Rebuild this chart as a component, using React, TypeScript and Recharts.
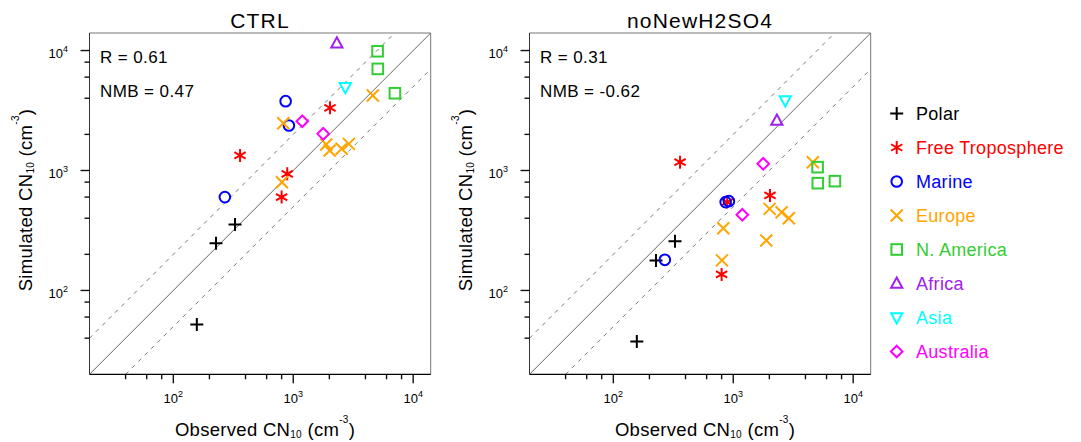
import React from 'react';
import { ScatterChart, Scatter, XAxis, YAxis, ReferenceLine } from 'recharts';

const FONT = '"Liberation Sans", Arial, Helvetica, sans-serif';

// ---------- categories / styles ----------
const categories = ['Polar', 'Free Troposphere', 'Marine', 'Europe', 'N. America', 'Africa', 'Asia', 'Australia'];
const markerKinds = ['plus', 'star', 'circle', 'cross', 'square', 'triUp', 'triDown', 'diamond'];
const colors = ['#000000', '#ff0000', '#0000ff', '#ffa500', '#32cd32', '#a020f0', '#00ffff', '#ff00ff'];

// ---------- observed CN10 (same sites in both panels) ----------
const obsPolar = [157, 227, 327];
const obsFreeTrop = [360, 800, 891, 2025];
const obsMarine = [269, 864, 920];
const obsEurope = [805, 826, 1885, 2010, 2530, 2910, 4610];
const obsNAmerica = [5050, 5070, 7040];
const obsAfrica = [2310];
const obsAsia = [2715];
const obsAustralia = [1190, 1778];

// ---------- simulated CN10, CTRL ----------
const ctrlPolar = [52, 247, 355];
const ctrlFreeTrop = [1334, 600, 938, 3327];
const ctrlMarine = [600, 3783, 2371];
const ctrlEurope = [799, 2479, 1647, 1468, 1516, 1668, 4217];
const ctrlNAmerica = [9860, 7031, 4406];
const ctrlAfrica = [11500];
const ctrlAsia = [4944];
const ctrlAustralia = [2574, 2021];

// ---------- simulated CN10, noNewH2SO4 ----------
const noNewPolar = [37.6, 178, 257];
const noNewFreeTrop = [1173, 136, 545, 619];
const noNewMarine = [180, 545, 555];
const noNewEurope = [178, 330, 261, 479, 449, 400, 1173];
const noNewNAmerica = [1066, 784, 815];
const noNewAfrica = [2610];
const noNewAsia = [3831];
const noNewAustralia = [427, 1137];

// ---------- axis ----------
const axisDomain = [20, 14000];
const tickValues = [40, 60, 80, 100, 200, 400, 600, 800, 1000, 2000, 4000, 6000, 8000, 10000];
const majorTicks = [100, 1000, 10000];

const observed = [obsPolar, obsFreeTrop, obsMarine, obsEurope, obsNAmerica, obsAfrica, obsAsia, obsAustralia];
const ctrlSim = [ctrlPolar, ctrlFreeTrop, ctrlMarine, ctrlEurope, ctrlNAmerica, ctrlAfrica, ctrlAsia, ctrlAustralia];
const noNewSim = [noNewPolar, noNewFreeTrop, noNewMarine, noNewEurope, noNewNAmerica, noNewAfrica, noNewAsia, noNewAustralia];

// plot-area geometry (matches the chart margins below)
const PLOT_L = 89.5;
const PLOT_W = 341.2;
const PLOT_T = 33;
const PLOT_H = 341.3;
const PANEL_OFFSET = 440;

function Marker({ kind, cx, cy, color }: { kind: string; cx: number; cy: number; color: string }) {
  const sw = 2;
  const common = { stroke: color, strokeWidth: sw, fill: 'none' };
  switch (kind) {
    case 'plus':
      return <path d={`M${cx - 6.5},${cy}H${cx + 6.5}M${cx},${cy - 6.5}V${cy + 6.5}`} {...common} />;
    case 'star': {
      const r = 6.5;
      let d = '';
      [90, 30, 150].forEach((a) => {
        const dx = r * Math.cos((a * Math.PI) / 180);
        const dy = r * Math.sin((a * Math.PI) / 180);
        d += `M${cx - dx},${cy - dy}L${cx + dx},${cy + dy}`;
      });
      return <path d={d} {...common} />;
    }
    case 'circle':
      return <circle cx={cx} cy={cy} r={5.3} {...common} />;
    case 'cross':
      return <path d={`M${cx - 6},${cy - 6}L${cx + 6},${cy + 6}M${cx - 6},${cy + 6}L${cx + 6},${cy - 6}`} {...common} />;
    case 'square':
      return <rect x={cx - 5.3} y={cy - 5.3} width={10.6} height={10.6} {...common} />;
    case 'triUp':
      return <path d={`M${cx},${cy - 6}L${cx + 5.6},${cy + 4.2}L${cx - 5.6},${cy + 4.2}Z`} {...common} />;
    case 'triDown':
      return <path d={`M${cx},${cy + 6}L${cx + 5.6},${cy - 4.2}L${cx - 5.6},${cy - 4.2}Z`} {...common} />;
    case 'diamond':
      return <path d={`M${cx},${cy - 5.8}L${cx + 5.8},${cy}L${cx},${cy + 5.8}L${cx - 5.8},${cy}Z`} {...common} />;
    default:
      return null;
  }
}

const expOf = (v: number) => Math.round(Math.log10(v));
const MINOR = 5;
const MAJOR = 9;

const XTick = (props: any) => {
  const { x, y, payload } = props;
  const v = payload.value;
  const major = majorTicks.includes(v);
  return (
    <g>
      {major && (
        <text x={x} y={y + 29} textAnchor="middle" fontSize={13} fontFamily={FONT} fill="#000">
          10
          <tspan dy={-6.5} fontSize={9}>
            {expOf(v)}
          </tspan>
        </text>
      )}
    </g>
  );
};

const YTick = (props: any) => {
  const { x, y, payload } = props;
  const v = payload.value;
  const major = majorTicks.includes(v);
  return (
    <g>
      {major && (
        <text x={x - 21.5} y={y + 7.7} textAnchor="end" fontSize={13} fontFamily={FONT} fill="#000">
          10
          <tspan dy={-6.5} fontSize={9}>
            {expOf(v)}
          </tspan>
        </text>
      )}
    </g>
  );
};

function Panel({ sims, left }: { sims: number[][]; left: number }) {
  const lo = axisDomain[0];
  const hi = axisDomain[1];
  return (
    <div style={{ position: 'absolute', left, top: 0, width: 450, height: 442, zIndex: 2 }}>
      <ScatterChart width={450} height={442} margin={{ top: PLOT_T, right: 450 - PLOT_L - PLOT_W, bottom: 0, left: 0 }}>
        <XAxis
          type="number"
          dataKey="x"
          scale="log"
          domain={axisDomain}
          allowDataOverflow
          ticks={tickValues}
          interval={0}
          tick={<XTick />}
          tickLine={false}
          tickSize={0}
          tickMargin={0}
          height={442 - PLOT_T - PLOT_H}
          axisLine={{ stroke: '#000', strokeWidth: 1.2 }}
        />
        <YAxis
          type="number"
          dataKey="y"
          scale="log"
          domain={axisDomain}
          allowDataOverflow
          ticks={tickValues}
          interval={0}
          tick={<YTick />}
          tickLine={false}
          tickSize={0}
          tickMargin={0}
          width={PLOT_L}
          axisLine={{ stroke: '#333', strokeWidth: 1 }}
        />
        <ReferenceLine y={hi} stroke="#777" strokeWidth={1} />
        <ReferenceLine x={hi} stroke="#777" strokeWidth={1} />
        <ReferenceLine segment={[{ x: lo, y: lo }, { x: hi, y: hi }]} stroke="#666" strokeWidth={1} />
        <ReferenceLine segment={[{ x: lo, y: lo * 2 }, { x: hi / 2, y: hi }]} stroke="#777" strokeWidth={1} strokeDasharray="4 5" />
        <ReferenceLine segment={[{ x: lo * 2, y: lo }, { x: hi, y: hi / 2 }]} stroke="#777" strokeWidth={1} strokeDasharray="4 5" />
        {categories.map((c, i) => (
          <Scatter
            key={c}
            name={c}
            data={observed[i].map((o, j) => ({ x: o, y: sims[i][j] }))}
            isAnimationActive={false}
            shape={(p: any) => <Marker kind={markerKinds[i]} cx={p.cx} cy={p.cy} color={colors[i]} />}
          />
        ))}
      </ScatterChart>
    </div>
  );
}

// tick marks of the log axes (axis decoration), drawn on the fixed plot geometry
function TickMarks({ off }: { off: number }) {
  const l0 = Math.log10(axisDomain[0]);
  const l1 = Math.log10(axisDomain[1]);
  const frac = (v: number) => (Math.log10(v) - l0) / (l1 - l0);
  const bottom = PLOT_T + PLOT_H;
  const leftX = PLOT_L + off;
  return (
    <g>
      {tickValues.map((v) => {
        const len = majorTicks.includes(v) ? MAJOR : MINOR;
        const px = leftX + frac(v) * PLOT_W;
        const py = bottom - frac(v) * PLOT_H;
        return (
          <g key={v}>
            <rect x={px - 0.7} y={bottom} width={1.4} height={len} fill="#111" />
            <rect x={leftX - len} y={py - 0.7} width={len} height={1.4} fill="#111" />
          </g>
        );
      })}
    </g>
  );
}

function AxisTitleX({ x, y }: { x: number; y: number }) {
  return (
    <text x={x} y={y} textAnchor="middle" fontSize={18.5} letterSpacing={0.3} fontFamily={FONT} fill="#000">
      Observed CN
      <tspan dy={2} fontSize={10}>10</tspan>
      <tspan dy={-2} fontSize={18.5}> (cm</tspan>
      <tspan dy={-13} fontSize={10}>-3</tspan>
      <tspan dy={13} fontSize={18.5}>)</tspan>
    </text>
  );
}

function AxisTitleY({ x, y }: { x: number; y: number }) {
  return (
    <text transform={`translate(${x},${y}) rotate(-90)`} x={0} y={0} textAnchor="middle" fontSize={18.5} letterSpacing={0.3} fontFamily={FONT} fill="#000">
      Simulated CN
      <tspan dy={2} fontSize={10}>10</tspan>
      <tspan dy={-2} fontSize={18.5}> (cm</tspan>
      <tspan dy={-13} fontSize={10}>-3</tspan>
      <tspan dy={13} fontSize={18.5}>)</tspan>
    </text>
  );
}

const panelTitles = ['CTRL', 'noNewH2SO4'];
const statR = ['0.61', '0.31'];
const statNMB = ['0.47', '-0.62'];

export default function App() {
  return (
    <div style={{ position: 'absolute', left: 0, top: 0, width: 1081, height: 442, background: '#fff' }}>
      <Panel sims={ctrlSim} left={0} />
      <Panel sims={noNewSim} left={PANEL_OFFSET} />
      <svg width={1081} height={442} style={{ position: 'absolute', left: 0, top: 0, zIndex: 5, pointerEvents: 'none' }}>
        {[0, 1].map((k) => {
          const off = k * PANEL_OFFSET;
          return (
            <g key={k}>
              <TickMarks off={off} />
              <text x={260 + off} y={27.5} textAnchor="middle" fontSize={21} letterSpacing={1.2} fontFamily={FONT} fill="#000">
                {panelTitles[k]}
              </text>
              <text x={100 + off} y={63.3} fontSize={17} letterSpacing={0.4} fontFamily={FONT} fill="#000">
                {`R = ${statR[k]}`}
              </text>
              <text x={100 + off} y={96.7} fontSize={17} letterSpacing={0.4} fontFamily={FONT} fill="#000">
                {`NMB = ${statNMB[k]}`}
              </text>
              <AxisTitleX x={265 + off} y={435.5} />
              <AxisTitleY x={31.5 + off} y={200} />
            </g>
          );
        })}
        {categories.map((c, i) => {
          const base = 120 + i * 34;
          return (
            <g key={c}>
              <Marker kind={markerKinds[i]} cx={896.7} cy={base - 6.5} color={colors[i]} />
              <text x={916} y={base} fontSize={18} letterSpacing={0.3} fontFamily={FONT} fill={colors[i]}>
                {c}
              </text>
            </g>
          );
        })}
      </svg>
    </div>
  );
}
